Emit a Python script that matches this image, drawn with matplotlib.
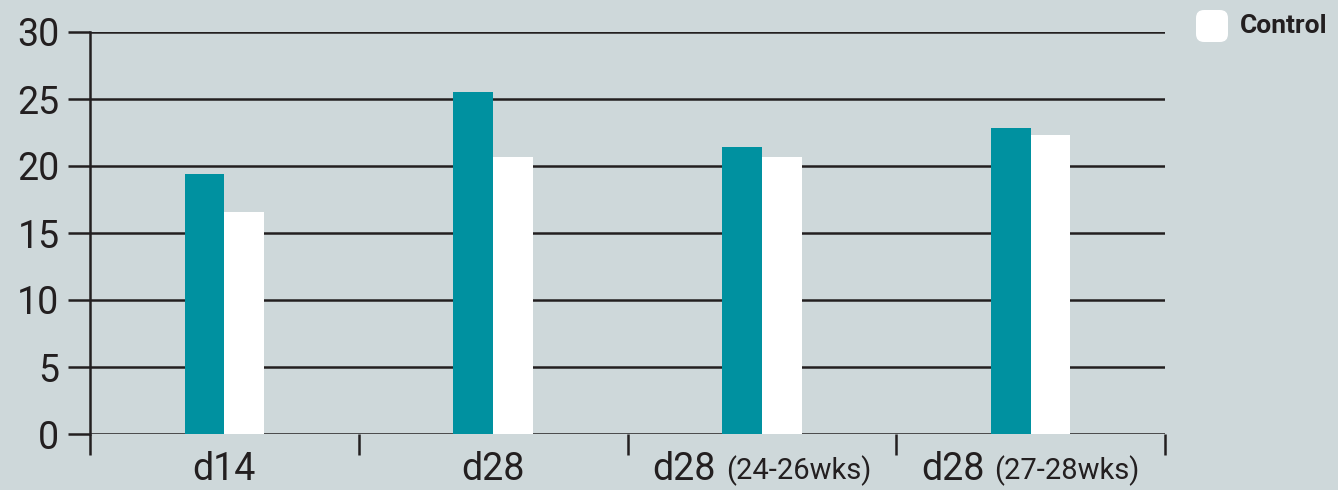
import matplotlib
matplotlib.use("Agg")
import matplotlib.pyplot as plt
import matplotlib.patches as mpatches
import matplotlib.transforms as mtransforms
from matplotlib.offsetbox import TextArea, HPacker, AnnotationBbox
import numpy as np

# ---- data ----
cat_main = ["d14", "d28", "d28", "d28"]
cat_sub = ["", "", "(24-26wks)", "(27-28wks)"]
treatment = [19.4, 25.5, 21.4, 22.8]
control = [16.6, 20.7, 20.7, 22.3]
yticks = [0, 5, 10, 15, 20, 25, 30]
legend_label = "Control"

BG = "#CED8DA"
TEAL = "#0091A0"
LINE = "#231F20"
FONT = "Roboto"

plt.rcParams['font.family'] = [FONT, 'DejaVu Sans']

W, H = 1338, 490
fig = plt.figure(figsize=(W / 100, H / 100), dpi=100, facecolor=BG)
ax = fig.add_axes([90 / W, (H - 434) / H, (1165 - 90) / W, (434 - 32) / H])
ax.set_facecolor(BG)

n = len(cat_main)
x = np.arange(n) + 0.5
bw = 0.148
ax.bar(x - bw / 2, treatment, width=bw, color=TEAL, zorder=3, linewidth=0)
ax.bar(x + bw / 2, control, width=bw, color="white", zorder=3, linewidth=0)

ax.set_xlim(0, n)
ax.set_ylim(0, 30)
ax.set_yticks(yticks)
ax.set_yticklabels([str(v) for v in yticks], fontsize=27, color=LINE)
ax.yaxis.grid(True, color=LINE, linewidth=1.8, zorder=1)
ax.set_axisbelow(True)
ax.tick_params(axis="y", direction="out", length=16, width=1.8, color=LINE, pad=6)

ax.set_xticks(x)
ax.set_xticklabels([])
ax.tick_params(axis="x", which="major", length=0)
ax.set_xticks(np.arange(n + 1), minor=True)
ax.tick_params(axis="x", which="minor", direction="out", length=15, width=1.8, color=LINE)

for s in ["top", "right", "bottom"]:
    ax.spines[s].set_visible(False)
ax.spines["left"].set_color(LINE)
ax.spines["left"].set_linewidth(1.8)

# category labels with mixed font sizes
for i in range(n):
    parts = [TextArea(cat_main[i], textprops=dict(fontsize=27, color=LINE, family=FONT))]
    if cat_sub[i]:
        parts.append(TextArea(cat_sub[i], textprops=dict(fontsize=21, color=LINE, family=FONT)))
    pack = HPacker(children=parts, align="baseline", pad=0, sep=7)
    ab = AnnotationBbox(pack, (x[i], 0), xycoords=("data", "axes fraction"),
                        xybox=(0, -12), boxcoords="offset points",
                        box_alignment=(0.5, 1), frameon=False, annotation_clip=False)
    ax.add_artist(ab)

# legend (only Control visible)
box = mpatches.FancyBboxPatch((1196, H - 42), 32, 32,
                              boxstyle="round,pad=0,rounding_size=8",
                              facecolor="white", edgecolor="none",
                              transform=mtransforms.IdentityTransform())
fig.add_artist(box)
fig.text(1240 / W, (H - 26) / H, legend_label, fontsize=19, fontweight="bold",
         color=LINE, ha="left", va="center")

fig.savefig("out.png", dpi=100, facecolor=BG)
